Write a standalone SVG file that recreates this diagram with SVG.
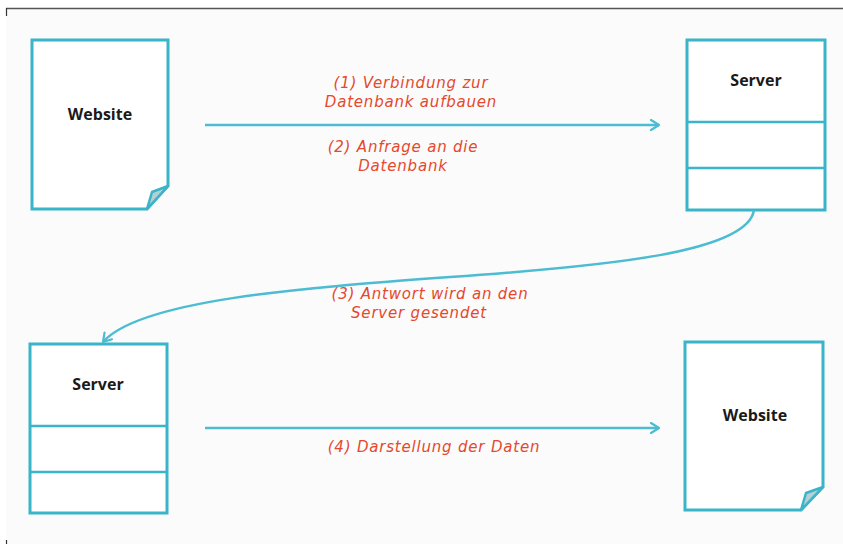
<svg xmlns="http://www.w3.org/2000/svg" width="843" height="544" viewBox="0 0 843 544">
<defs>
<style>
.box{fill:#ffffff;stroke:#3ab4c8;stroke-width:3;stroke-linejoin:miter}
.div{stroke:#3ab4c8;stroke-width:2.5}
.fold{fill:#b7cfd3;stroke:#3ab4c8;stroke-width:2.5;stroke-linejoin:round}
.title{font-family:"Open Sans","Liberation Sans",sans-serif;font-weight:bold;font-size:16px;fill:#1a1a1a;text-anchor:middle}
.lbl{font-family:"DejaVu Sans","Liberation Sans",sans-serif;font-style:italic;font-size:15px;letter-spacing:0.8px;fill:#e5482c;text-anchor:middle}
.conn{fill:none;stroke:#4bbcd2;stroke-width:2.5}
</style>
<marker id="arr" viewBox="0 0 12 12" refX="10" refY="6" markerWidth="12" markerHeight="12" markerUnits="userSpaceOnUse" orient="auto">
<path d="M2,1 L10,6 L2,11" fill="none" stroke="#4bbcd2" stroke-width="2.2" stroke-linecap="round" stroke-linejoin="round"/>
</marker>
</defs>
<rect x="0" y="0" width="843" height="544" fill="#ffffff"/>
<rect x="6" y="9" width="837" height="535" fill="#fbfbfb"/>
<g id="frame">
<line x1="6" y1="8.5" x2="843" y2="8.5" stroke="#555555" stroke-width="1.5"/>
<line x1="6.5" y1="8" x2="6.5" y2="16" stroke="#333333" stroke-width="1.2"/>
<line x1="6.5" y1="540" x2="6.5" y2="544" stroke="#333333" stroke-width="1.2"/>
</g>
<g id="website1">
<path class="box" d="M32,40 H168 V186 L147,209 H32 Z"/>
<path class="fold" d="M147,209 L152,192 L168,186 Z"/>
<text class="title" x="100" y="120">Website</text>
</g>
<g id="server1">
<rect class="box" x="687" y="40" width="138" height="170"/>
<line class="div" x1="687" y1="122" x2="825" y2="122"/>
<line class="div" x1="687" y1="168" x2="825" y2="168"/>
<text class="title" x="756" y="86">Server</text>
</g>
<g id="server2">
<rect class="box" x="30" y="344" width="137" height="169"/>
<line class="div" x1="30" y1="426" x2="167" y2="426"/>
<line class="div" x1="30" y1="472" x2="167" y2="472"/>
<text class="title" x="98" y="390">Server</text>
</g>
<g id="website2">
<path class="box" d="M685,342 H823 V487 L801,510 H685 Z"/>
<path class="fold" d="M801,510 L806,493 L823,487 Z"/>
<text class="title" x="755" y="421">Website</text>
</g>
<g id="connectors">
<line class="conn" x1="205" y1="125" x2="659" y2="125" marker-end="url(#arr)"/>
<path class="conn" d="M754,210 C748,252 610,266 450,277 C300,288 140,300 103,342" marker-end="url(#arr)"/>
<line class="conn" x1="205" y1="428" x2="659" y2="428" marker-end="url(#arr)"/>
</g>
<g id="labels">
<text class="lbl" x="411" y="88">(1) Verbindung zur</text>
<text class="lbl" x="411" y="107">Datenbank aufbauen</text>
<text class="lbl" x="403" y="152">(2) Anfrage an die</text>
<text class="lbl" x="403" y="171">Datenbank</text>
<text class="lbl" x="430" y="299">(3) Antwort wird an den</text>
<text class="lbl" x="419" y="318">Server gesendet</text>
<text class="lbl" x="434" y="452">(4) Darstellung der Daten</text>
</g>
</svg>
